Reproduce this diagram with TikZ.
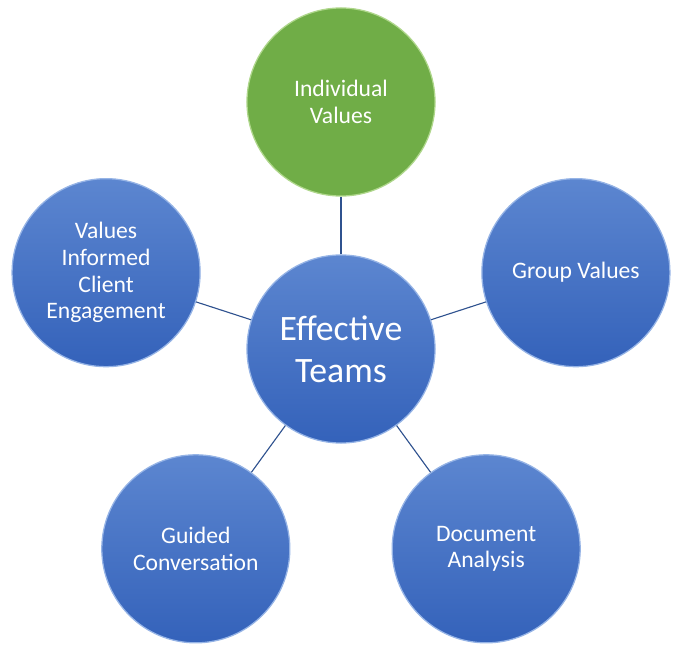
\documentclass[tikz,border=0pt]{standalone}
\usepackage{fontspec}
\setmainfont{Carlito}
\usetikzlibrary{positioning}

\definecolor{bluetop}{RGB}{92,134,208}
\definecolor{bluebot}{RGB}{52,98,186}
\definecolor{greenfill}{RGB}{112,173,71}
\definecolor{linkblue}{RGB}{47,82,143}

\tikzset{
  bubble/.style={circle, minimum size=4.7cm, inner sep=0pt, align=center,
    text=white, top color=bluetop, bottom color=bluebot,
    draw={rgb,255:red,150;green,180;blue,230}, line width=0.9pt,
    font=\fontsize{16.8}{19}\selectfont},
  hubble/.style={bubble, font=\fontsize{25.4}{30}\selectfont},
  greenbubble/.style={bubble, top color=greenfill, bottom color=greenfill,
    draw={rgb,255:red,175;green,215;blue,140}},
  link/.style={draw=linkblue, line width=0.8pt}
}

\begin{document}
\begin{tikzpicture}[x=0.025cm, y=0.025cm]
  \useasboundingbox (-341,-301) rectangle (337,349);

  \node[hubble] (hub) at (0,0) {Effective\\Teams};

  \node[greenbubble] (indiv) at (90:247) {Individual\\Values};
  \node[bubble] (group)  at (18:247)  {Group Values};
  \node[bubble] (docs)   at (-54:247) {Document\\Analysis};
  \node[bubble] (guided) at (-126:247) {Guided\\Conversation};
  \node[bubble] (client) at (162:247) {Values\\Informed\\Client\\Engagement};

  \foreach \n in {indiv,group,docs,guided,client} {
    \draw[link] (hub) -- (\n);
  }
\end{tikzpicture}
\end{document}
